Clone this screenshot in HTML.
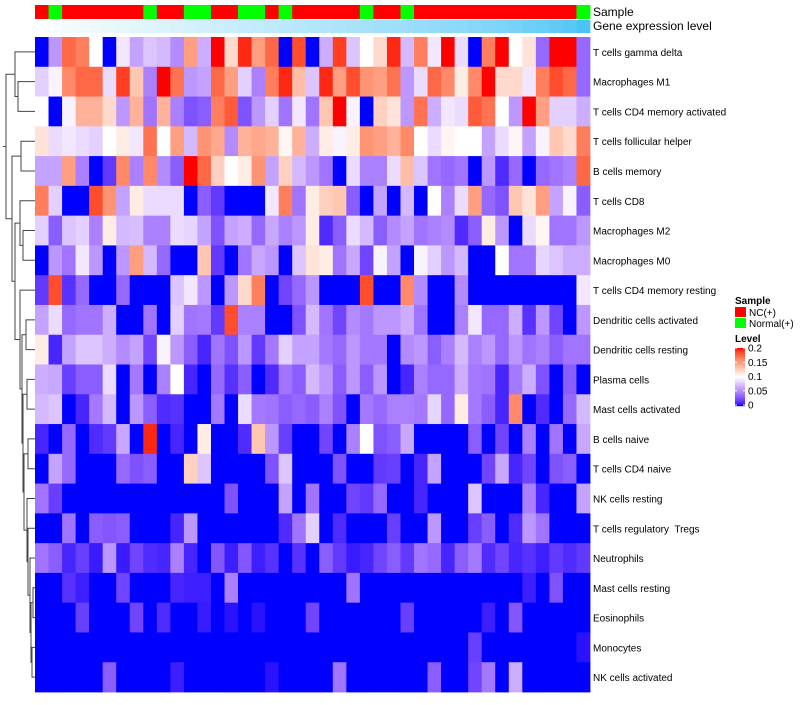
<!DOCTYPE html>
<html><head><meta charset="utf-8"><style>
body{margin:0;background:#fff;font-family:"Liberation Sans",sans-serif}
svg text{font-family:"Liberation Sans",sans-serif;white-space:pre}
</style></head><body>
<svg id="chart" width="800" height="700" xmlns="http://www.w3.org/2000/svg">
<g id="sample-bar"></g>
<g id="gene-bar"></g>
<g id="cells-g"></g>
<g id="labels-g"></g>
<g id="dendro" stroke="#444" stroke-width="1" fill="none"></g>
<text x="593" y="16" font-size="12">Sample</text>
<text x="593" y="30" font-size="12">Gene expression level</text>
<g>
<text x="735" y="304" font-size="10" font-weight="bold">Sample</text>
<rect x="735" y="307" width="11" height="10" fill="#ff0000"/>
<text x="749" y="316" font-size="10">NC(+)</text>
<rect x="735" y="318" width="11" height="10" fill="#00ff00"/>
<text x="749" y="327" font-size="10">Normal(+)</text>
<text x="735" y="342" font-size="10" font-weight="bold">Level</text>
<g id="cbar"></g>
</g>
</svg>
<script>
var rowNames=["T cells gamma delta","Macrophages M1","T cells CD4 memory activated","T cells follicular helper","B cells memory","T cells CD8","Macrophages M2","Macrophages M0","T cells CD4 memory resting","Dendritic cells activated","Dendritic cells resting","Plasma cells","Mast cells activated","B cells naive","T cells CD4 naive","NK cells resting","T cells regulatory  Tregs","Neutrophils","Mast cells resting","Eosinophils","Monocytes","NK cells activated"];
var sampleGroups=["NC","Normal","NC","NC","NC","NC","NC","NC","Normal","NC","NC","Normal","Normal","NC","NC","Normal","Normal","NC","Normal","NC","NC","NC","NC","NC","Normal","NC","NC","Normal","NC","NC","NC","NC","NC","NC","NC","NC","NC","NC","NC","NC","Normal"];
var geneLevel=[0,0.03,0.06,0.08,0.1,0.12,0.14,0.16,0.18,0.2,0.22,0.24,0.26,0.28,0.3,0.32,0.34,0.36,0.38,0.4,0.42,0.44,0.46,0.48,0.5,0.52,0.54,0.56,0.58,0.6,0.62,0.64,0.67,0.7,0.73,0.76,0.8,0.84,0.88,0.93,1];
var row0=[0,0.055,0.175,0.165,0.1,0,0.09,0.06,0.075,0.07,0.05,0.15,0.065,0.2,0.12,0.195,0.15,0.175,0,0.185,0,0.065,0.19,0.075,0.1,0.12,0.195,0.07,0.165,0.09,0.2,0.085,0,0.165,0.2,0.1,0.115,0.035,0.2,0.2,0.035];
var row1=[0.08,0.095,0.16,0.175,0.175,0.085,0.19,0.13,0.045,0.2,0.17,0.055,0.06,0.175,0.15,0.08,0.045,0.165,0.195,0.135,0.075,0.195,0.15,0.185,0.155,0.15,0.17,0.055,0.085,0.175,0.16,0.11,0.16,0.2,0.12,0.12,0.09,0.165,0.185,0.175,0.035];
var row2=[0.1,0,0.095,0.14,0.14,0.12,0.055,0.14,0.04,0.14,0.045,0.025,0.03,0.165,0.18,0.025,0.055,0.08,0.04,0.09,0.04,0.13,0.2,0.095,0,0.125,0.115,0.055,0.17,0.065,0.09,0.085,0.18,0.17,0.1,0.055,0.2,0.15,0.08,0.08,0.065];
var row3=[0.115,0.085,0.09,0.085,0.08,0.1,0.11,0.09,0.17,0.1,0.15,0.07,0.155,0.145,0.05,0.14,0.145,0.14,0.105,0.14,0.065,0.11,0.095,0.11,0.155,0.15,0.14,0.16,0.1,0.085,0.105,0.1,0.1,0.06,0.085,0.105,0.06,0.095,0.13,0.12,0.165];
var row4=[0.06,0.06,0.15,0.045,0,0.015,0.16,0.045,0.16,0.05,0.03,0.2,0.175,0.125,0.1,0.11,0.155,0.06,0.125,0.07,0.055,0.04,0,0.085,0.045,0.045,0.085,0.135,0.075,0.04,0.035,0.04,0,0.055,0.01,0.035,0,0.035,0.04,0.045,0.175];
var row5=[0.165,0.08,0,0,0.185,0.155,0.06,0.11,0.085,0.085,0.085,0,0.03,0.015,0,0,0,0.09,0.165,0.04,0.11,0.125,0.13,0.03,0,0.06,0,0.07,0,0.1,0.045,0.085,0.15,0.035,0.025,0.13,0.115,0.15,0.06,0.095,0.03];
var row6=[0.08,0.03,0.075,0.08,0.045,0.11,0.07,0.072,0.045,0.045,0.085,0.082,0.06,0.025,0.06,0.065,0.035,0.062,0.045,0.055,0.11,0.01,0.03,0.085,0.07,0.03,0.05,0.06,0.04,0.045,0.05,0.01,0.03,0.11,0.055,0,0.085,0.105,0.04,0.04,0.055];
var row7=[0,0.055,0.04,0.09,0.055,0,0.055,0.15,0.07,0.035,0,0,0.13,0.015,0,0.04,0.062,0.055,0,0.075,0.115,0.11,0.04,0.062,0.02,0.095,0.06,0,0.095,0.08,0.055,0.07,0,0,0.1,0.04,0.04,0.082,0.075,0.065,0.065];
var row8=[0.015,0.185,0.012,0.035,0,0,0.035,0,0,0,0.075,0.09,0.055,0,0.055,0.12,0.165,0,0.02,0.035,0.055,0,0,0,0.185,0,0,0.16,0.05,0,0,0.05,0,0,0,0,0,0,0,0,0.09];
var row9=[0.06,0.085,0.035,0.04,0.04,0.065,0,0,0.04,0,0.08,0.04,0.042,0.015,0.185,0.045,0.045,0,0,0.025,0.07,0.04,0.02,0.05,0.042,0.055,0.055,0.065,0.04,0,0,0.045,0.09,0.035,0.035,0.065,0.012,0.055,0.02,0,0.055];
var row10=[0.11,0.008,0.06,0.075,0.075,0.065,0.05,0.06,0.02,0.095,0.055,0.03,0.008,0.04,0.025,0.055,0.015,0.042,0.08,0.06,0.06,0.042,0.035,0.055,0.042,0.042,0,0.05,0.055,0.03,0.045,0.07,0.045,0.055,0.035,0.055,0.04,0.045,0.03,0.04,0.04];
var row11=[0.065,0.062,0.017,0.03,0.03,0.085,0,0.042,0,0.045,0.1,0.008,0,0.035,0.012,0.03,0,0.01,0.04,0.03,0.07,0.055,0.03,0.055,0.03,0.055,0,0.008,0.045,0.035,0.035,0.065,0.042,0.04,0.008,0.042,0.065,0.025,0,0.03,0];
var row12=[0.07,0.075,0,0.008,0.042,0.07,0,0.055,0.03,0.01,0.012,0,0,0.042,0,0.085,0.042,0.04,0.03,0.035,0.03,0.045,0.025,0,0.042,0.035,0.045,0.045,0.042,0.082,0.035,0.11,0.042,0.03,0.008,0.16,0,0.01,0,0.035,0.07];
var row13=[0.008,0,0.035,0,0.01,0.015,0.062,0,0.195,0,0.008,0,0.11,0,0,0.01,0.13,0.055,0.017,0,0,0.02,0,0.045,0.1,0.025,0.03,0.062,0,0,0,0,0.03,0,0.02,0,0.045,0,0.04,0,0.062];
var row14=[0,0.06,0.035,0,0,0,0.035,0.025,0.03,0,0,0.125,0.075,0,0,0,0,0.025,0.075,0,0,0,0.025,0,0,0.015,0.017,0,0.008,0.06,0,0,0,0.02,0.062,0.008,0.02,0,0.025,0.03,0];
var row15=[0.04,0.017,0,0,0,0,0,0,0,0,0,0,0,0,0.025,0,0,0,0.06,0,0.04,0,0,0.02,0.015,0.035,0,0,0.008,0,0,0,0.075,0,0,0,0.045,0.008,0,0,0.06];
var row16=[0,0,0.04,0,0.03,0.027,0.03,0,0,0,0.008,0.055,0,0,0,0,0,0,0.01,0.04,0.08,0,0.01,0,0,0,0.017,0,0,0.055,0,0,0.017,0.03,0,0.01,0.055,0.04,0,0,0];
var row17=[0.04,0.03,0.008,0.017,0.005,0.055,0.005,0.02,0.01,0.008,0.045,0.008,0,0.027,0.006,0.027,0.006,0.012,0,0.012,0,0.03,0.015,0.005,0.008,0.02,0.03,0.015,0.04,0.035,0.008,0.03,0.042,0.01,0.02,0.008,0.012,0.006,0.015,0.01,0.015];
var row18=[0,0,0.012,0.006,0,0,0.02,0,0,0,0.008,0.006,0.006,0,0.045,0,0,0,0,0,0,0,0,0.04,0,0,0,0,0,0,0,0,0,0,0,0,0.006,0,0.025,0,0];
var row19=[0,0,0,0.017,0,0,0,0.02,0,0.01,0,0,0.005,0,0.003,0,0.003,0,0,0,0.02,0,0,0,0,0,0,0.017,0,0,0,0,0,0.006,0,0.027,0,0,0,0,0];
var row20=[0,0,0,0,0,0,0,0,0,0,0,0,0,0,0,0,0,0,0,0,0,0,0,0,0,0,0,0,0,0,0,0,0.017,0,0,0,0,0,0,0,0.003];
var row21=[0,0,0,0,0,0.03,0,0,0,0,0.006,0,0,0,0,0,0,0.003,0,0,0,0,0.04,0,0,0,0,0,0,0.03,0,0,0.02,0.042,0,0.065,0,0,0,0,0];
var matrix=[row0,row1,row2,row3,row4,row5,row6,row7,row8,row9,row10,row11,row12,row13,row14,row15,row16,row17,row18,row19,row20,row21];
var levelTicks=[0,0.05,0.1,0.15,0.2];

var NS="http://www.w3.org/2000/svg";
var HX0=35,HW=555,HY0=37,HH=655;
var nC=sampleGroups.length,nR=rowNames.length;
var cw=HW/nC,rh=HH/nR;
function xCol(i){return HX0+i*cw;}
function yRow(j){return HY0+j*rh;}
function mk(tag,attrs,par){var e=document.createElementNS(NS,tag);for(var k in attrs)e.setAttribute(k,attrs[k]);par.appendChild(e);return e;}
function lin(c){c/=255;return c>0.04045?Math.pow((c+0.055)/1.055,2.4):c/12.92;}
function rgb2lab(R,G,B){var r=lin(R),g=lin(G),b=lin(B);
 var x=(r*0.4124+g*0.3576+b*0.1805)/0.95047,y=(r*0.2126+g*0.7152+b*0.0722),z=(r*0.0193+g*0.1192+b*0.9505)/1.08883;
 function h(t){return t>0.008856?Math.cbrt(t):7.787*t+16/116;}
 x=h(x);y=h(y);z=h(z);return [116*y-16,500*(x-y),200*(y-z)];}
function lab2rgb(L,A,Bb){var y=(L+16)/116,x=A/500+y,z=y-Bb/200;
 function h(t){return t*t*t>0.008856?t*t*t:(t-16/116)/7.787;}
 x=h(x)*0.95047;y=h(y);z=h(z)*1.08883;
 var r=x*3.2406+y*-1.5372+z*-0.4986,g=x*-0.9689+y*1.8758+z*0.0415,b=x*0.0557+y*-0.2040+z*1.0570;
 function f(c){c=c>0.0031308?1.055*Math.pow(c,1/2.4)-0.055:12.92*c;return Math.round(Math.max(0,Math.min(1,c))*255);}
 return "rgb("+f(r)+","+f(g)+","+f(b)+")";}
var LB=rgb2lab(0,0,255),LWt=rgb2lab(255,255,255),LR=rgb2lab(255,0,0);
function colorOf(v){v=Math.max(0,Math.min(0.2,v));var a,b,t;if(v<=0.1){a=LB;b=LWt;t=v/0.1;}else{a=LWt;b=LR;t=(v-0.1)/0.1;}
 return lab2rgb(a[0]+(b[0]-a[0])*t,a[1]+(b[1]-a[1])*t,a[2]+(b[2]-a[2])*t);}

var sb=document.getElementById('sample-bar'),gb=document.getElementById('gene-bar'),cg=document.getElementById('cells-g'),lg=document.getElementById('labels-g');
sampleGroups.forEach(function(s,i){
  var el=mk('rect',{x:xCol(i),y:5,width:cw+0.4,height:14,fill:s==="NC"?"#ff0000":"#00ff00"},sb);
  
  
});
geneLevel.forEach(function(g,i){
  var c="rgb("+Math.round(255-(255-75)*g)+","+Math.round(255-(255-196)*g)+","+Math.round(255-(255-245)*g)+")";
  var el=mk('rect',{x:xCol(i),y:20,width:cw+0.4,height:13,fill:c},gb);
  
  
});
matrix.forEach(function(row,j){
  row.forEach(function(v,i){
    var el=mk('rect',{x:xCol(i),y:yRow(j),width:cw+0.4,height:rh+0.4,fill:colorOf(v)},cg);
    
    
  });
  var t=mk('text',{x:593,y:yRow(j)+rh/2+4,'font-size':10},lg);
  t.textContent=rowNames[j];
  
  
});
var dg=document.getElementById('dendro');
function N(h,a,b){return {h:h,c:[a,b]};}
var G8=N(31,N(33,18,19),N(32,20,21));
var G7=N(30,17,G8);
var G6=N(28,16,G7);
var G5=N(27,15,G6);
var G4=N(24,N(28,13,14),G5);
var G3=N(23,N(27,11,12),G4);
var G2=N(22,N(26,9,10),G3);
var Gn=N(20,8,G2);
var Fn=N(20,5,N(23,6,7));
var En=N(15,Fn,Gn);
var Bn=N(12,N(21,3,4),En);
var An=N(15,0,N(18,1,2));
var treeRoot=N(6,An,Bn);
function draw(n){if(typeof n==="number")return {x:35,y:yRow(n)+rh/2};
 var a=draw(n.c[0]),b=draw(n.c[1]);
 var p=mk('path',{d:"M"+a.x+","+a.y+"H"+n.h+"V"+b.y+"H"+b.x},dg);
 
 
 return {x:n.h,y:(a.y+b.y)/2};}
var rt=draw(treeRoot);
mk('path',{d:"M"+rt.x+","+rt.y+"H3"},dg);
var cb=document.getElementById('cbar');
var cbTop=348,cbBot=405;
for(var k=0;k<=57;k++){mk('rect',{x:735,y:cbTop+k,width:10,height:1.2,fill:colorOf(0.2*(1-k/57))},cb);}
levelTicks.forEach(function(v){
  var y=cbBot-(v/0.2)*(cbBot-cbTop);
  mk('line',{x1:735,x2:737,y1:y,y2:y,stroke:'#fff'},cb);
  mk('line',{x1:743,x2:745,y1:y,y2:y,stroke:'#fff'},cb);
  var t=mk('text',{x:748,y:y+3.5,'font-size':10},cb);
  t.textContent=String(v);
  
  
});
</script>
</body></html>
